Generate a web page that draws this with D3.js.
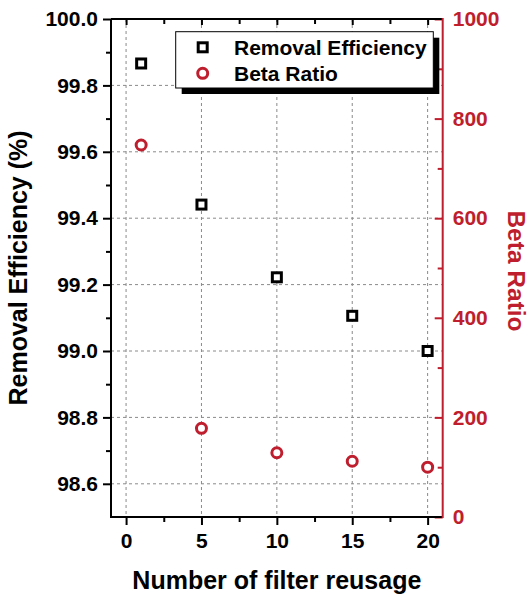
<!DOCTYPE html>
<html><head><meta charset="utf-8">
<script src="https://cdn.jsdelivr.net/npm/d3@7"></script>
<style>body{margin:0;background:#fff;} text{font-family:"Liberation Sans",Arial,sans-serif;font-weight:bold;}</style>
</head><body>
<svg id="c" width="532" height="596"></svg>
<script>
const reuse = [1, 5, 10, 15, 20];
const removalEfficiency = [99.866, 99.441, 99.222, 99.106, 99.0];
const betaRatio = [747, 178, 129, 112, 100];
const xTicks = [0, 5, 10, 15, 20];
const yLeftTicks = [98.6, 98.8, 99.0, 99.2, 99.4, 99.6, 99.8, 100.0];
const yRightTicks = [0, 200, 400, 600, 800, 1000];
const legendLabels = ["Removal Efficiency", "Beta Ratio"];

const RED = "#be1e2d";
const L = 111, R = 442.7, T = 19, B = 517;
const svg = d3.select("#c");
const x = d3.scaleLinear().domain([-1, 21]).range([L, R]);
const yl = d3.scaleLinear().domain([98.5, 100.0]).range([B, T]);
const yr = d3.scaleLinear().domain([0, 1000]).range([B, T]);

// grid
const grid = svg.append("g").attr("stroke", "#8a8a8a").attr("stroke-width", 1).attr("stroke-dasharray", "3,3");
xTicks.forEach(t => grid.append("line").attr("x1", x(t)).attr("x2", x(t)).attr("y1", T).attr("y2", B));
yLeftTicks.filter(t => t < 100).forEach(t => grid.append("line").attr("x1", L).attr("x2", R).attr("y1", yl(t)).attr("y2", yl(t)));

function styleAxis(g, color, fs) {
  g.select(".domain").remove();
  g.selectAll("line").attr("stroke", color).attr("stroke-width", 2);
  g.selectAll("text").attr("fill", color).style("font-size", fs + "px").style("font-weight", "bold");
}
const xMinor = d3.range(-1, 21.01, 2.5).filter(v => !xTicks.includes(v)).concat([2.5,7.5,12.5,17.5]).filter((v,i,a)=>a.indexOf(v)===i && v>-1 && v<21);
// bottom axis
const gb = svg.append("g").attr("transform", `translate(0,${B})`)
  .call(d3.axisBottom(x).tickValues(xTicks).tickSize(8).tickPadding(8).tickFormat(d3.format("d")));
styleAxis(gb, "#000", 21);
svg.append("g").attr("transform", `translate(0,${B})`)
  .call(d3.axisBottom(x).tickValues([2.5,7.5,12.5,17.5]).tickSize(5).tickFormat(""))
  .call(g => styleAxis(g, "#000", 21));
// top axis (inward ticks)
svg.append("g").attr("transform", `translate(0,${T})`)
  .call(d3.axisBottom(x).tickValues(xTicks).tickSize(6).tickFormat(""))
  .call(g => styleAxis(g, "#000", 21));
svg.append("g").attr("transform", `translate(0,${T})`)
  .call(d3.axisBottom(x).tickValues([2.5,7.5,12.5,17.5]).tickSize(5).tickFormat(""))
  .call(g => styleAxis(g, "#000", 21));
// left axis
const glf = svg.append("g").attr("transform", `translate(${L},0)`)
  .call(d3.axisLeft(yl).tickValues(yLeftTicks).tickSize(8).tickPadding(5).tickFormat(d3.format(".1f")));
styleAxis(glf, "#000", 21);
svg.append("g").attr("transform", `translate(${L},0)`)
  .call(d3.axisLeft(yl).tickValues([98.7, 98.9, 99.1, 99.3, 99.5, 99.7, 99.9]).tickSize(5).tickFormat(""))
  .call(g => styleAxis(g, "#000", 21));
// right axis (inward ticks)
const grt = svg.append("g").attr("transform", `translate(${R},0)`)
  .call(d3.axisRight(yr).tickValues(yRightTicks).tickSize(-8).tickPadding(18).tickFormat(d3.format("d")));
styleAxis(grt, RED, 21);
grt.selectAll("text").attr("x", 10);
svg.append("g").attr("transform", `translate(${R},0)`)
  .call(d3.axisRight(yr).tickValues([100, 300, 500, 700, 900]).tickSize(-5).tickFormat(""))
  .call(g => styleAxis(g, RED, 21));

// frame lines
svg.append("line").attr("x1", L).attr("x2", R).attr("y1", B).attr("y2", B).attr("stroke", "#000").attr("stroke-width", 2);
svg.append("line").attr("x1", L).attr("x2", R).attr("y1", T).attr("y2", T).attr("stroke", "#000").attr("stroke-width", 2);
svg.append("line").attr("x1", L).attr("x2", L).attr("y1", T).attr("y2", B + 1).attr("stroke", "#000").attr("stroke-width", 2);
svg.append("line").attr("x1", R).attr("x2", R).attr("y1", T - 1).attr("y2", B + 1).attr("stroke", RED).attr("stroke-width", 2);

// data
const sq = 9;
svg.append("g").selectAll("rect").data(reuse).join("rect")
  .attr("x", (d) => x(d) - sq / 2).attr("y", (d, i) => yl(removalEfficiency[i]) - sq / 2)
  .attr("width", sq).attr("height", sq).attr("fill", "#fff").attr("stroke", "#000").attr("stroke-width", 3);
svg.append("g").selectAll("circle").data(reuse).join("circle")
  .attr("cx", (d) => x(d)).attr("cy", (d, i) => yr(betaRatio[i]))
  .attr("r", 5).attr("fill", "#fff").attr("stroke", RED).attr("stroke-width", 3);

// legend
const lg = svg.append("g");
lg.append("rect").attr("x", 181.7).attr("y", 37.7).attr("width", 257.6).attr("height", 56.3).attr("fill", "#000");
lg.append("rect").attr("x", 175.7).attr("y", 31.7).attr("width", 257.6).attr("height", 56.3).attr("fill", "#fff").attr("stroke", "#000").attr("stroke-width", 1);
lg.append("rect").attr("x", 202.7 - sq / 2).attr("y", 47.3 - sq / 2).attr("width", sq).attr("height", sq)
  .attr("fill", "#fff").attr("stroke", "#000").attr("stroke-width", 3);
lg.append("circle").attr("cx", 202.7).attr("cy", 73.3).attr("r", 5).attr("fill", "#fff").attr("stroke", RED).attr("stroke-width", 3);
lg.append("text").attr("x", 234).attr("y", 54.5).style("font-size", "21px").attr("fill", "#000").text(legendLabels[0]);
lg.append("text").attr("x", 234).attr("y", 81).style("font-size", "21px").attr("fill", "#000").text(legendLabels[1]);

// titles
svg.append("text").attr("transform", `translate(27,${(T + B) / 2}) rotate(-90)`).attr("text-anchor", "middle")
  .style("font-size", "25px").attr("fill", "#000").text("Removal Efficiency (%)");
svg.append("text").attr("transform", `translate(508,${(T + B) / 2 + 3}) rotate(90)`).attr("text-anchor", "middle")
  .style("font-size", "24.5px").attr("fill", RED).text("Beta Ratio");
svg.append("text").attr("x", (L + R) / 2).attr("y", 589).attr("text-anchor", "middle")
  .style("font-size", "25px").attr("fill", "#000").text("Number of filter reusage");
</script>
</body></html>
